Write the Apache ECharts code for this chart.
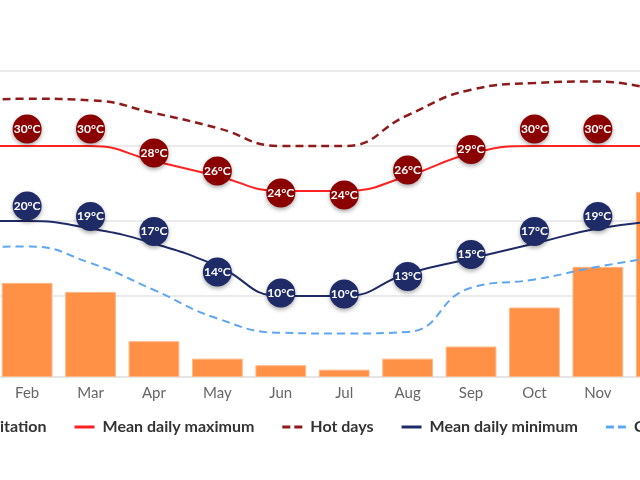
<!DOCTYPE html>
<html>
<head>
<meta charset="utf-8">
<title>Climate chart</title>
<script src="https://cdn.jsdelivr.net/npm/echarts@6/dist/echarts.min.js"></script>
</head>
<body style="margin:0;background:#fff">
<div id="container" style="width:640px;height:480px"></div>
<script>
var months = ['Jan', 'Feb', 'Mar', 'Apr', 'May', 'Jun', 'Jul', 'Aug', 'Sep', 'Oct', 'Nov', 'Dec'];
// precipitation, mm
var precipitation = [95, 61.5, 55.6, 23.4, 12, 7.7, 4.8, 12, 19.9, 45.4, 72, 121];
// temperatures, °C
var meanMax = [30, 30, 30, 28, 26, 24, 24, 26, 29, 30, 30, 30];
var hotDays = [36, 36.3, 36.1, 34.4, 32.4, 30, 30, 34.1, 37.5, 38.4, 38.6, 37.2];
var meanMin = [20, 20, 19, 17, 14, 10, 10, 13, 15, 17, 19, 20];
var coldNights = [16.5, 16.6, 14.4, 10.8, 7, 5.1, 5, 5.2, 11.1, 12.2, 13.9, 15.3];

// vertical shift of the round value badges (px)
var maxBadgeLift = [-17, -17, -17, -8, -5, 2, 4, -6, -4, -17, -17, -17];
var minBadgeLift = [-15, -15, -12, -12, 6, -3, -2, 3, -4, -12, -12, -12];

var dom = document.getElementById('container');
var myChart = echarts.init(dom);

function badges(values, lift) {
    return values.map(function (v, i) {
        return { value: v, symbolOffset: [0, lift[i]] };
    });
}

var badgeLabel = {
    show: true,
    position: 'inside',
    formatter: '{c}°C',
    color: '#fff',
    fontFamily: 'Lato',
    fontWeight: 'bold',
    fontSize: 12
};

var dashIcon = 'path://M0,0h8v3h-8z M12,0h8v3h-8z';

var option = {
    animation: false,
    textStyle: { fontFamily: 'Lato' },
    grid: [
        { left: -68, right: -53, top: 71, bottom: 109, outerBoundsMode: 'none' },
        { left: -68, right: -53, top: 71, bottom: 103, outerBoundsMode: 'none' }
    ],
    legend: {
        left: 'center',
        top: 414,
        width: 1200,
        itemWidth: 20,
        itemHeight: 3,
        itemGap: 28,
        textStyle: { fontFamily: 'Lato', fontWeight: 'bold', fontSize: 16, color: '#333', padding: [0, 0, 0, 3] },
        data: [
            { name: 'Precipitation', icon: 'rect' },
            { name: 'Mean daily maximum', icon: 'rect', itemStyle: { color: '#ff2222' } },
            { name: 'Hot days', icon: dashIcon, itemStyle: { color: '#8e1b1b' } },
            { name: 'Mean daily minimum', icon: 'rect', itemStyle: { color: '#1f2b66' } },
            { name: 'Cold nights', icon: dashIcon, itemStyle: { color: '#5ea6f2' } }
        ]
    },
    xAxis: [
        { type: 'category', gridIndex: 0, data: months, show: false },
        {
            type: 'category', gridIndex: 1, data: months,
            axisLine: { lineStyle: { color: '#dcdcdc', width: 1.5 } },
            axisTick: { show: false },
            axisLabel: { color: '#666', fontSize: 15, margin: 9 }
        }
    ],
    yAxis: [
        {
            type: 'value', gridIndex: 0, min: 0, max: 40, interval: 10,
            axisLine: { show: false }, axisTick: { show: false }, axisLabel: { show: false },
            splitLine: { lineStyle: { color: ['rgba(0,0,0,0)', '#e4e4e4', '#e4e4e4', '#e4e4e4', '#e4e4e4'], width: 1.5 } }
        },
        {
            type: 'value', gridIndex: 1, min: 0, max: 200,
            axisLine: { show: false }, axisTick: { show: false }, axisLabel: { show: false },
            splitLine: { show: false }
        }
    ],
    series: [
        {
            name: 'Precipitation', type: 'bar', xAxisIndex: 1, yAxisIndex: 1,
            barCategoryGap: '20%',
            itemStyle: { color: '#ff9147', borderColor: '#ffb784', borderWidth: 1 },
            data: precipitation
        },
        {
            name: 'Hot days', type: 'line', smooth: 0.5, symbol: 'none',
            lineStyle: { color: '#8e1b1b', width: 2.5, type: [8, 5] },
            itemStyle: { color: '#8e1b1b' },
            data: hotDays
        },
        {
            name: 'Cold nights', type: 'line', smooth: 0.5, symbol: 'none',
            lineStyle: { color: '#5ea6f2', width: 2, type: [8, 5] },
            itemStyle: { color: '#5ea6f2' },
            data: coldNights
        },
        {
            name: 'Mean daily maximum', type: 'line', smooth: 0.5,
            symbol: 'circle', symbolSize: 29, showSymbol: true,
            lineStyle: { color: '#ff2222', width: 2 },
            itemStyle: { color: '#8b0000', shadowBlur: 4, shadowColor: 'rgba(0,0,0,0.35)', shadowOffsetY: 2 },
            label: badgeLabel,
            data: badges(meanMax, maxBadgeLift)
        },
        {
            name: 'Mean daily minimum', type: 'line', smooth: 0.5,
            symbol: 'circle', symbolSize: 29, showSymbol: true,
            lineStyle: { color: '#1f2b66', width: 2 },
            itemStyle: { color: '#1f2b66', shadowBlur: 4, shadowColor: 'rgba(0,0,0,0.35)', shadowOffsetY: 2 },
            label: badgeLabel,
            data: badges(meanMin, minBadgeLift)
        }
    ]
};

myChart.setOption(option);
</script>
</body>
</html>
